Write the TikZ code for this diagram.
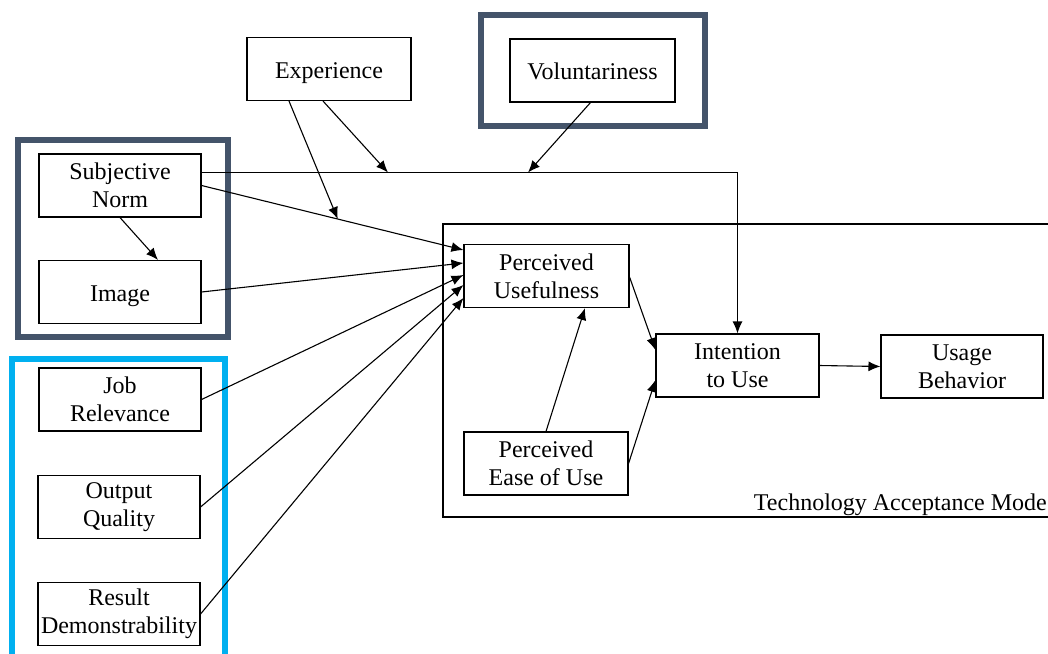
\documentclass[tikz,border=0pt]{standalone}
\usepackage{fontspec}
\setmainfont{Liberation Serif}
\usetikzlibrary{arrows.meta,calc}
\definecolor{slate}{HTML}{44546A}
\definecolor{skyframe}{HTML}{00B0F0}

\begin{document}
\begin{tikzpicture}[x=1pt,y=-1pt,
  box/.style={draw,line width=1.1pt,rectangle,align=center,inner sep=0pt,
    minimum height=63pt,font=\fontsize{24}{28}\selectfont},
  oneline/.style={text height=18pt,text depth=0pt},
  link/.style={line width=1.1pt},
  arr/.style={link,-{Latex[length=12pt,width=10pt]}},
  groupframe/.style={line width=6pt}]
\useasboundingbox (0,0) rectangle (1048,653);
\fill[white] (0,0) rectangle (1048,653);

% group frames
\draw[groupframe,slate] (481,15) rectangle (705,126);
\draw[groupframe,slate] (18,139.5) rectangle (228,336.5);
\draw[groupframe,skyframe] (12,660) -- (12,358.5) -- (225,358.5) -- (225,660);

% Technology Acceptance Model frame
\draw[link] (1048,224) -- (443,224) -- (443,517) -- (1048,517);
\node[anchor=base east,inner sep=0pt,font=\fontsize{24}{28}\selectfont] (tamlabel) at (1047,510) {Technology Acceptance Mode};

% constructs
\node[box,oneline,minimum width=164pt] (exp) at (329,69) {Experience};
\node[box,oneline,minimum width=165pt] (vol) at (592.5,70.5) {Voluntariness};
\node[box,minimum width=162pt] (sn) at (120,185.5) {Subjective\\Norm};
\node[box,oneline,minimum width=162pt] (img) at (120,292) {Image};
\node[box,minimum width=162pt] (jr) at (120,399.5) {Job\\Relevance};
\node[box,minimum width=162pt] (oq) at (119,507) {Output\\Quality};
\node[box,minimum width=162pt] (rd) at (119,614) {Result\\Demonstrability};
\node[box,minimum width=165pt] (pu) at (546.5,276) {Perceived\\Usefulness};
\node[box,minimum width=164pt] (peou) at (546,463.5) {Perceived\\Ease of Use};
\node[box,minimum width=163pt] (itu) at (737.5,365.5) {Intention\\to Use};
\node[box,minimum width=162pt] (ub) at (962,366.5) {Usage\\Behavior};

% determinants of perceived usefulness
\draw[arr] (sn.east) -- ([yshift=26pt]pu.west);
\draw[arr] (img.east) -- ([yshift=13pt]pu.west);
\draw[arr] (jr.east) -- ([yshift=1pt]pu.west);
\draw[arr] (oq.east) -- ([yshift=-9pt]pu.west);
\draw[arr] (rd.east) -- ([yshift=-22pt]pu.west);
\draw[arr] (sn.south) -- ([xshift=38pt]img.north);

% subjective norm to intention, with moderators
\draw[arr] ([yshift=13pt]sn.east) -| (itu.north);
\coordinate (expmod) at (388,172.5);
\coordinate (volmod) at (528,172.5);
\coordinate (snmod) at ($(sn.east)!0.52!([yshift=26pt]pu.west)$);
\draw[arr] ([xshift=-6pt]exp.south) -- (expmod);
\draw[arr] ([xshift=-40pt]exp.south) -- (snmod);
\draw[arr] ([xshift=-2pt]vol.south) -- (volmod);

% core TAM relations
\draw[arr] ([yshift=-1pt]pu.east) -- ([yshift=15.5pt]itu.west);
\draw[arr] (peou.east) -- ([yshift=-14.5pt]itu.west);
\draw[arr] (peou.north) -- ([xshift=38.5pt]pu.south);
\draw[arr] (itu.east) -- (ub.west);
\end{tikzpicture}
\end{document}
